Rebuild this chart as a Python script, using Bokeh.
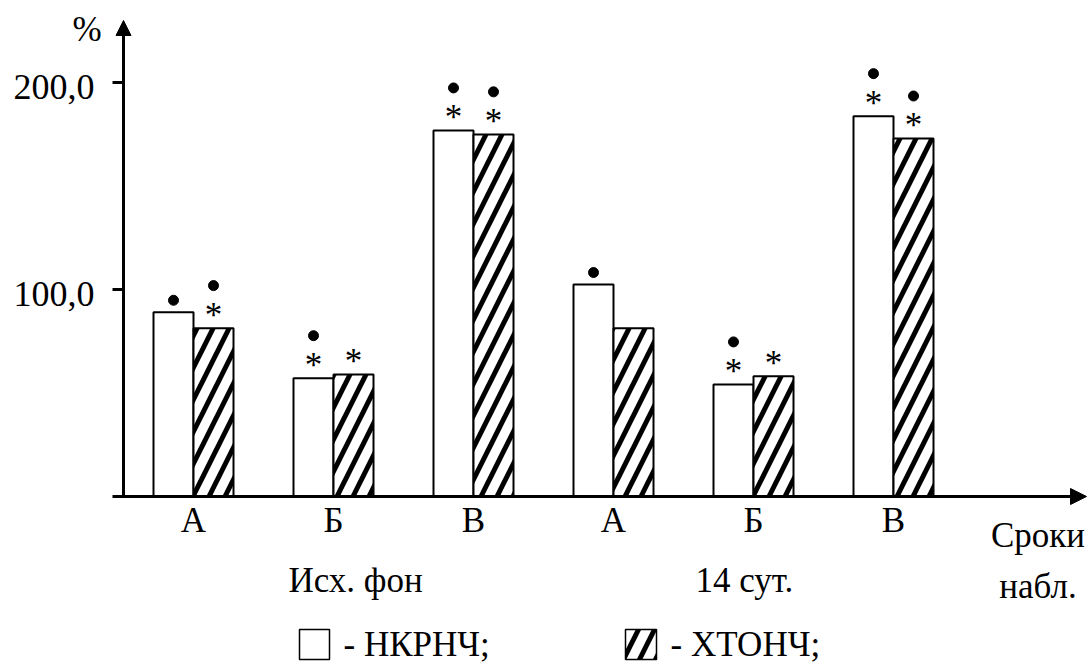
import numpy as np
from bokeh.plotting import figure
from bokeh.models import Range1d, Arrow, NormalHead
from bokeh.core.properties import value
from bokeh.embed import file_html
from bokeh.resources import INLINE

# ---------------- data ----------------
categories = ["А", "Б", "В", "А", "Б", "В"]
group_labels = ["Исх. фон", "14 сут."]
series_names = ["НКРНЧ", "ХТОНЧ"]
nkrnch = [89.0, 57.1, 176.8, 102.4, 54.1, 183.7]
htonch = [81.3, 58.9, 174.9, 81.3, 58.1, 172.9]
star_nkrnch = [0, 1, 1, 0, 1, 1]
dot_nkrnch = [1, 1, 1, 1, 1, 1]
star_htonch = [1, 1, 1, 0, 1, 1]
dot_htonch = [1, 0, 1, 0, 0, 1]
y_ticks = [100, 200]
y_tick_labels = ["100,0", "200,0"]
y_unit = "%"
x_title = ["Сроки", "набл."]

# ---------------- layout helpers ----------------
W, H = 1092, 664
SX = 140.0      # px per category step
SY = 2.07       # px per 1 %
X0_PX, Y0_PX = 193.0, 496.0
TXT_FIX = 12.0  # renderer places the alphabetic baseline this much lower


def X(px):
    return (px - X0_PX) / SX


def Y(py):
    return (Y0_PX - py) / SY


def YT(py):
    # data y for a text whose baseline should sit at screen row py
    return Y(py - TXT_FIX)


FONT = value("Liberation Serif")
HATCH = dict(hatch_pattern="/", hatch_color="black", hatch_weight=5, hatch_scale=32)

p = figure(width=W, height=H,
           x_range=Range1d(X(0), X(W)), y_range=Range1d(Y(H), Y(0)),
           output_backend="svg", toolbar_location=None,
           x_axis_location=None, y_axis_location=None, min_border=0)
p.grid.visible = False
p.outline_line_color = None
p.background_fill_color = "white"
p.border_fill_color = "white"

xs = np.arange(len(categories), dtype=float)
half = 20.0 / SX

# bars
p.vbar(x=xs - half, top=nkrnch, bottom=0, width=2 * half,
       fill_color="white", line_color="black", line_width=2)
p.vbar(x=xs + half, top=htonch, bottom=0, width=2 * half,
       fill_color="white", line_color="black", line_width=2, **HATCH)

# significance marks
for offs, vals, stars, dots in [(-half, nkrnch, star_nkrnch, dot_nkrnch),
                                (half, htonch, star_htonch, dot_htonch)]:
    sx_, sy_, dx_, dy_ = [], [], [], []
    for i, v in enumerate(vals):
        if stars[i]:
            sx_.append(xs[i] + offs)
            sy_.append(v + (1.0 + TXT_FIX) / SY)
        if dots[i]:
            dx_.append(xs[i] + offs)
            dy_.append(v + (42.6 if stars[i] else 12.0) / SY)
    p.text(x=sx_, y=sy_, text=["*"] * len(sx_), text_align="center",
           text_baseline="alphabetic", text_font=FONT,
           text_font_size=value("35px"), text_color="black")
    p.scatter(x=dx_, y=dy_, marker="circle", size=10,
              fill_color="black", line_color="black")

# axes with arrows
p.add_layout(Arrow(end=NormalHead(size=16, fill_color="black", line_color="black", line_width=1),
                   x_start=X(112), y_start=0, x_end=X(1086), y_end=0,
                   line_width=3, line_color="black"))
p.add_layout(Arrow(end=NormalHead(size=15, fill_color="black", line_color="black", line_width=1),
                   x_start=X(123), y_start=Y(497.5), x_end=X(123), y_end=Y(20),
                   line_width=3, line_color="black"))

# y ticks and labels
p.segment(x0=[X(112)] * len(y_ticks), y0=y_ticks, x1=[X(123)] * len(y_ticks), y1=y_ticks,
          line_width=3, line_color="black")
p.text(x=[X(94)] * len(y_ticks), y=[t + (TXT_FIX - 16.3) / SY for t in y_ticks],
       text=y_tick_labels, text_align="right", text_baseline="alphabetic",
       text_font=FONT, text_font_size=value("36px"), text_color="black")
p.text(x=[X(86.5)], y=[YT(41)], text=[y_unit], text_align="center",
       text_baseline="alphabetic", text_font=FONT, text_font_size=value("35px"),
       text_color="black")

# x labels
p.text(x=xs, y=[YT(531.7)] * len(categories), text=categories, text_align="center",
       text_baseline="alphabetic", text_font=FONT, text_font_size=value("35px"),
       text_color="black")
p.text(x=[X(288), X(695)], y=[YT(591.7)] * 2, text=group_labels, text_align="left",
       text_baseline="alphabetic", text_font=FONT, text_font_size=value("35px"),
       text_color="black")
p.text(x=[X(1037.5)] * 2, y=[YT(546.7), YT(598)], text=x_title, text_align="center",
       text_baseline="alphabetic", text_font=FONT, text_font_size=value("35px"),
       text_color="black")

# legend (kept just inside the bottom edge)
p.rect(x=[X(314)], y=[Y(644)], width=30 / SX, height=30 / SY,
       fill_color="white", line_color="black", line_width=1.5)
p.rect(x=[X(640.5)], y=[Y(644)], width=31 / SX, height=30 / SY,
       fill_color="white", line_color="black", line_width=1.5, **HATCH)
p.text(x=[X(343), X(670)], y=[YT(656)] * 2,
       text=["- " + n + ";" for n in series_names], text_align="left",
       text_baseline="alphabetic", text_font=FONT, text_font_size=value("35px"),
       text_color="black")

open("out.html", "w").write(file_html(p, INLINE))
